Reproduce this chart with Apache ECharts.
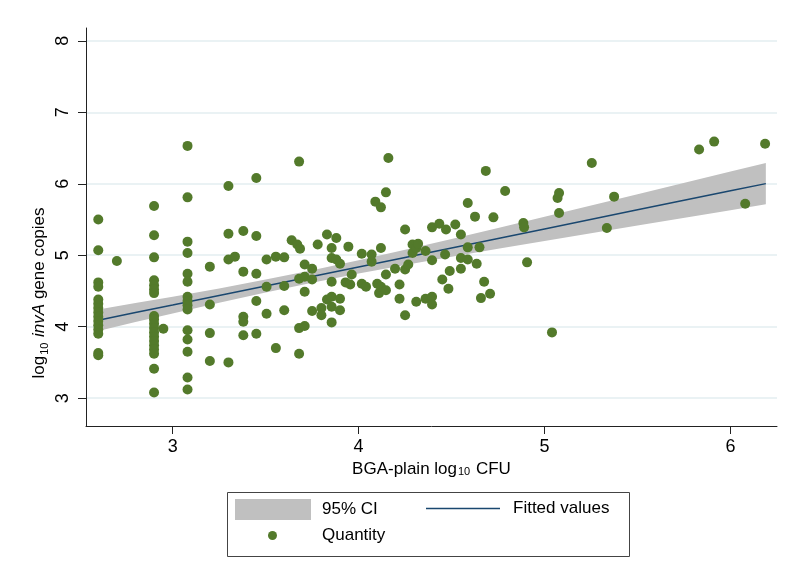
<!DOCTYPE html>
<html><head><meta charset="utf-8">
<script src="https://cdn.jsdelivr.net/npm/echarts@6/dist/echarts.min.js"></script>
<style>html,body{margin:0;padding:0;background:#fff}#c{width:786px;height:578px}</style>
</head><body><div id="c"></div>
<script>
// ---- data ----
const xTicks = [3, 4, 5, 6];
const yTicks = [3, 4, 5, 6, 7, 8];
const ciX     = [2.6, 2.8, 3.0, 3.25, 3.5, 3.75, 4.0, 4.25, 4.5, 4.75, 5.0, 5.5, 6.0, 6.19];
const ciLower = [3.94, 4.064, 4.186, 4.336, 4.479, 4.615, 4.743, 4.863, 4.978, 5.089, 5.199, 5.417, 5.631, 5.712];
const ciUpper = [4.24, 4.33, 4.42, 4.536, 4.659, 4.789, 4.929, 5.075, 5.226, 5.381, 5.537, 5.853, 6.171, 6.292];
const fitted  = [4.09, 4.197, 4.303, 4.436, 4.569, 4.702, 4.836, 4.969, 5.102, 5.235, 5.368, 5.635, 5.901, 6.002];
const quantity = [
  [2.6,5.50],[2.6,5.07],[2.6,4.62],[2.6,4.56],[2.6,4.38],[2.6,4.32],[2.6,4.26],[2.6,4.20],[2.6,4.14],[2.6,4.08],[2.6,4.02],[2.6,3.96],[2.6,3.90],[2.6,3.63],[2.6,3.60],
  [2.70,4.92],
  [2.9,5.69],[2.9,5.28],[2.9,4.97],[2.9,4.65],[2.9,4.58],[2.9,4.52],[2.9,4.47],[2.9,4.15],[2.9,4.10],[2.9,4.04],[2.9,3.98],[2.9,3.92],[2.9,3.86],[2.9,3.80],[2.9,3.74],[2.9,3.68],[2.9,3.62],[2.9,3.41],[2.9,3.08],
  [2.95,3.97],
  [3.08,6.53],[3.08,5.81],[3.08,5.19],[3.08,5.03],[3.08,4.74],[3.08,4.63],[3.08,4.42],[3.08,4.36],[3.08,4.30],[3.08,4.24],[3.08,3.95],[3.08,3.82],[3.08,3.65],[3.08,3.29],[3.08,3.12],
  [3.20,4.84],[3.20,4.31],[3.20,3.91],[3.20,3.52],
  [3.30,5.97],[3.30,5.30],[3.30,4.94],[3.30,3.50],[3.335,4.98],
  [3.38,5.34],[3.38,4.77],[3.38,4.14],[3.38,4.07],[3.38,3.88],
  [3.45,6.08],[3.45,5.27],[3.45,4.74],[3.45,4.36],[3.45,3.90],
  [3.505,4.94],[3.505,4.56],[3.505,4.18],
  [3.555,4.98],[3.555,3.70],
  [3.60,4.97],[3.60,4.57],[3.60,4.23],
  [3.64,5.21],[3.67,5.15],[3.685,5.09],
  [3.68,6.31],[3.68,4.67],[3.68,3.98],[3.68,3.62],
  [3.71,4.87],[3.71,4.70],[3.71,4.49],[3.71,4.01],
  [3.75,4.81],[3.75,4.66],[3.75,4.22],
  [3.78,5.15],[3.80,4.26],[3.80,4.16],
  [3.83,5.29],[3.83,4.38],
  [3.855,5.10],[3.855,4.96],[3.855,4.63],[3.855,4.42],[3.855,4.28],[3.855,4.06],
  [3.88,5.24],[3.88,4.94],
  [3.90,4.88],[3.90,4.39],[3.90,4.23],
  [3.93,4.62],[3.945,5.12],[3.955,4.59],[3.963,4.73],
  [4.017,5.02],[4.017,4.60],[4.04,4.56],
  [4.07,5.01],[4.07,4.91],[4.09,5.75],[4.10,4.60],[4.11,4.47],
  [4.12,5.67],[4.12,5.10],[4.12,4.56],
  [4.147,5.88],[4.147,4.73],[4.147,4.51],[4.16,6.36],
  [4.196,4.81],[4.22,4.59],[4.22,4.39],
  [4.25,5.36],[4.25,4.80],[4.25,4.16],[4.267,4.87],
  [4.29,5.15],[4.29,5.03],[4.31,5.10],[4.31,4.35],[4.32,5.16],
  [4.36,5.06],[4.36,4.39],
  [4.395,5.39],[4.395,4.93],[4.395,4.42],[4.395,4.31],
  [4.434,5.44],[4.45,4.66],[4.465,5.01],[4.47,5.36],[4.483,4.53],[4.49,4.78],[4.52,5.43],
  [4.55,5.29],[4.55,4.96],[4.55,4.81],
  [4.587,5.73],[4.587,5.11],[4.587,4.94],
  [4.626,5.54],[4.635,4.88],[4.65,5.11],[4.658,4.40],[4.675,4.63],[4.684,6.18],[4.707,4.46],[4.725,5.53],
  [4.788,5.90],[4.886,5.45],[4.89,5.39],[4.906,4.90],
  [5.04,3.92],[5.07,5.80],[5.078,5.87],[5.078,5.59],
  [5.254,6.29],[5.335,5.38],[5.374,5.82],
  [5.831,6.48],[5.912,6.59],[6.079,5.72],[6.186,6.56]
];

const FONT = '"Liberation Sans", Arial, sans-serif';
const chart = echarts.init(document.getElementById('c'), null, {renderer: 'canvas'});

const fitData = ciX.map((x, i) => [x, fitted[i]]);

const option = {
  backgroundColor: '#ffffff',
  animation: false,
  textStyle: {fontFamily: FONT, color: '#000'},
  grid: {left: 86, right: 9, top: 28, bottom: 152, containLabel: false},
  xAxis: {
    type: 'value', min: 2.534, max: 6.25,
    name: 'BGA-plain log{s|10} CFU',
    nameLocation: 'middle', nameGap: 29,
    nameTextStyle: {
      fontFamily: FONT, fontSize: 17, color: '#000',
      rich: {s: {fontSize: 11, fontFamily: FONT, verticalAlign: 'bottom', lineHeight: 11, padding:[0,1,0,1]}}
    },
    axisLine: {show: true, onZero: false, lineStyle: {color: '#222', width: 1}},
    axisTick: {show: true, length: 8, customValues: xTicks, lineStyle: {color: '#222'}},
    axisLabel: {customValues: xTicks, fontSize: 18, color: '#000', margin: 12, fontFamily: FONT},
    splitLine: {show: false}
  },
  yAxis: {
    type: 'value', min: 2.61, max: 8.18,
    axisLine: {show: true, onZero: false, lineStyle: {color: '#222', width: 1}},
    axisTick: {show: true, length: 8, customValues: yTicks, lineStyle: {color: '#222'}},
    axisLabel: {customValues: yTicks, fontSize: 18, color: '#000', margin: 14, rotate: 90, fontFamily: FONT},
    splitLine: {show: true, lineStyle: {color: '#e3eef1', width: 1.5}}
  },
  legend: [
    {data: ['95% CI'], left: 235, top: 499, itemWidth: 76, itemHeight: 21, icon: 'rect',
     selectedMode: false, padding: 0, textStyle: {fontSize: 17, color: '#000', fontFamily: FONT, padding: [0,0,0,6]}},
    {data: [{name: 'Fitted values', icon: 'rect'}], left: 426, top: 500, itemWidth: 74, itemHeight: 1.6,
     selectedMode: false, padding: 0, itemStyle: {color: '#1a476f', borderWidth: 0},
     textStyle: {fontSize: 17, color: '#000', fontFamily: FONT, padding: [0,0,0,8]}},
    {data: ['Quantity'], left: 268, top: 527, itemWidth: 9, itemHeight: 9, icon: 'circle',
     selectedMode: false, padding: 0, textStyle: {fontSize: 17, color: '#000', fontFamily: FONT, padding: [0,0,0,40]}}
  ],
  graphic: [
    {type: 'rect', shape: {x: 227.5, y: 492.5, width: 402, height: 64},
     style: {fill: 'none', stroke: '#444', lineWidth: 1}, silent: true},
    {type: 'text', x: 39, y: 293, rotation: Math.PI / 2,
     style: {
       text: '{a|log}{s|10}{a| }{i|invA}{a| gene copies}',
       align: 'center', verticalAlign: 'middle',
       rich: {
         a: {fontSize: 17, fontFamily: FONT, fill: '#000', lineHeight: 22, verticalAlign: 'middle'},
         i: {fontSize: 17, fontFamily: FONT, fontStyle: 'italic', fill: '#000', lineHeight: 22, verticalAlign: 'middle'},
         s: {fontSize: 11, fontFamily: FONT, fill: '#000', lineHeight: 11, verticalAlign: 'bottom', padding: [0,1,0,1]}
       }
     }, silent: true}
  ],
  series: [
    {
      type: 'custom', name: '95% CI', data: [0], silent: true, z: 1,
      itemStyle: {color: '#c0c0c0'},
      renderItem: function (params, api) {
        const pts = [];
        for (let i = 0; i < ciX.length; i++) pts.push(api.coord([ciX[i], ciUpper[i]]));
        for (let i = ciX.length - 1; i >= 0; i--) pts.push(api.coord([ciX[i], ciLower[i]]));
        return {type: 'polygon', shape: {points: pts}, style: {fill: '#c0c0c0'}};
      }
    },
    {
      type: 'line', name: 'Fitted values', data: fitData, showSymbol: false, symbol: 'none',
      lineStyle: {color: '#1a476f', width: 1.5}, itemStyle: {color: '#1a476f'}, z: 2, silent: true
    },
    {
      type: 'scatter', name: 'Quantity', data: quantity, symbol: 'circle', symbolSize: 10,
      itemStyle: {color: '#537a2b', opacity: 1}, z: 3, silent: true
    }
  ]
};
chart.setOption(option);
</script>
</body></html>
